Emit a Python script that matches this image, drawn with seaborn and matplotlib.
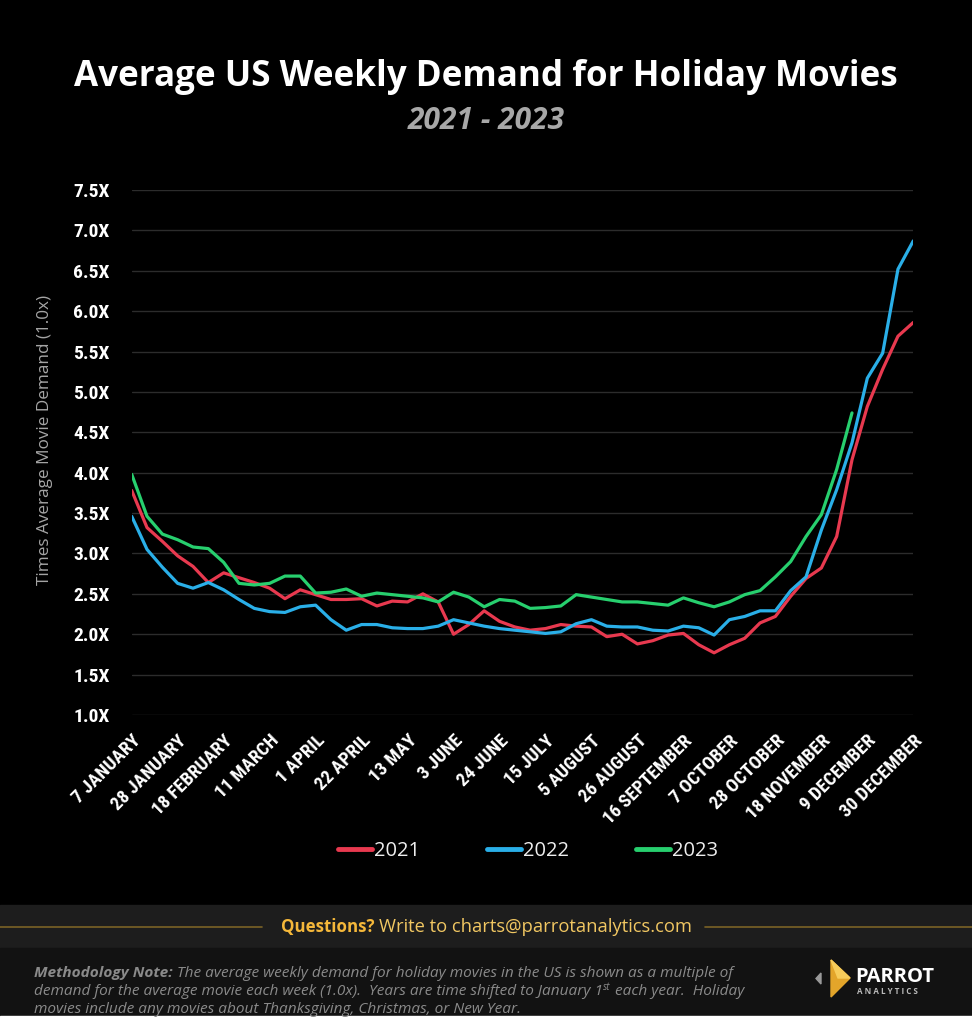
import numpy as np
import pandas as pd
import matplotlib
matplotlib.use('Agg')
import matplotlib.pyplot as plt
import seaborn as sns
from matplotlib import font_manager
from matplotlib.font_manager import FontProperties
from matplotlib.patches import Rectangle, Polygon
from matplotlib.lines import Line2D

# weekly demand (multiple of average movie demand), week 0 = 7 January
demand_2021 = [3.78, 3.32, 3.15, 2.97, 2.84, 2.64, 2.76, 2.70, 2.64, 2.57,
               2.44, 2.55, 2.49, 2.43, 2.43, 2.44, 2.35, 2.41, 2.40, 2.50,
               2.40, 2.00, 2.12, 2.29, 2.16, 2.09, 2.05, 2.07, 2.12, 2.10,
               2.09, 1.97, 2.00, 1.88, 1.92, 1.99, 2.01, 1.87, 1.77, 1.87,
               1.95, 2.14, 2.22, 2.47, 2.69, 2.82, 3.21, 4.16, 4.82, 5.28,
               5.69, 5.86]
demand_2022 = [3.46, 3.05, 2.83, 2.63, 2.57, 2.64, 2.55, 2.43, 2.32, 2.28,
               2.27, 2.34, 2.36, 2.18, 2.05, 2.12, 2.12, 2.08, 2.07, 2.07,
               2.10, 2.18, 2.14, 2.10, 2.07, 2.05, 2.03, 2.01, 2.03, 2.13,
               2.18, 2.10, 2.09, 2.09, 2.05, 2.04, 2.10, 2.08, 1.99, 2.18,
               2.22, 2.29, 2.29, 2.54, 2.71, 3.29, 3.79, 4.37, 5.17, 5.48,
               6.52, 6.87]
demand_2023 = [3.98, 3.46, 3.24, 3.17, 3.08, 3.06, 2.89, 2.63, 2.61, 2.63,
               2.72, 2.72, 2.51, 2.52, 2.56, 2.47, 2.51, 2.49, 2.47, 2.45,
               2.40, 2.52, 2.46, 2.34, 2.43, 2.41, 2.32, 2.33, 2.35, 2.49,
               2.46, 2.43, 2.40, 2.40, 2.38, 2.36, 2.45, 2.39, 2.34, 2.40,
               2.49, 2.54, 2.71, 2.90, 3.21, 3.48, 4.04, 4.74]

years = ['2021', '2022', '2023']
tick_labels = ['7 JANUARY', '28 JANUARY', '18 FEBRUARY', '11 MARCH', '1 APRIL',
               '22 APRIL', '13 MAY', '3 JUNE', '24 JUNE', '15 JULY', '5 AUGUST',
               '26 AUGUST', '16 SEPTEMBER', '7 OCTOBER', '28 OCTOBER',
               '18 NOVEMBER', '9 DECEMBER', '30 DECEMBER']
y_ticks = [1.0, 1.5, 2.0, 2.5, 3.0, 3.5, 4.0, 4.5, 5.0, 5.5, 6.0, 6.5, 7.0, 7.5]
palette = {'2021': '#E8394F', '2022': '#2AAFE8', '2023': '#27CF6E'}

rows = []
for yr, vals in zip(years, [demand_2021, demand_2022, demand_2023]):
    for i, v in enumerate(vals):
        rows.append({'week': i, 'demand': v, 'year': yr})
df = pd.DataFrame(rows)


def pick(*names):
    avail = {f.name for f in font_manager.fontManager.ttflist}
    for n in names:
        if n in avail:
            return n
    return 'DejaVu Sans'


def narrow_font():
    # look for a bold condensed / narrow face among the installed fonts
    best = None
    for f in font_manager.fontManager.ttflist:
        fn = f.fname.lower().replace('-', '').replace('_', '')
        w = f.weight if isinstance(f.weight, int) else 400
        if w < 600 or 'italic' in fn or 'oblique' in fn:
            continue
        if 'extracondensed' in fn or 'semicondensed' in fn:
            continue
        if 'condensed' in fn or 'narrow' in fn:
            if best is None or w == 700:
                best = f
    if best is not None:
        return FontProperties(fname=best.fname), True
    return FontProperties(family='DejaVu Sans', weight='bold', stretch='condensed'), False


NARROW, has_narrow = narrow_font()
SANS = pick('Open Sans', 'Lato', 'DejaVu Sans')
TITLE = pick('Open Sans', 'Lato', 'DejaVu Sans')

sns.set_style('dark', {'axes.facecolor': 'black', 'figure.facecolor': 'black'})
plt.rcParams['font.family'] = [SANS, 'DejaVu Sans']

W, H = 972, 1024
fig = plt.figure(figsize=(W / 100, H / 100), dpi=100)
fig.patch.set_facecolor('black')

x0, x1, ytop, ybot = 131.7, 913.3, 190, 715
ax = fig.add_axes([x0 / W, 1 - ybot / H, (x1 - x0) / W, (ybot - ytop) / H])
ax.set_facecolor('black')

sns.lineplot(data=df, x='week', y='demand', hue='year', palette=palette,
             linewidth=2.3, ax=ax, legend=False)

ax.set_xlim(0, 51)
ax.set_ylim(1.0, 7.5)
ax.set_yticks(y_ticks)
ax.set_yticklabels([f'{v:.1f}X' for v in y_ticks], color='white')
ax.set_xticks(list(range(0, 52, 3)))
ax.set_xticklabels(tick_labels, rotation=45, ha='right', rotation_mode='anchor',
                   color='white')
for lab in ax.get_xticklabels():
    lab.set_fontproperties(NARROW)
    lab.set_fontsize(13.5 if has_narrow else 10.5)
    if not has_narrow:
        lab.set_fontweight('bold')
for lab in ax.get_yticklabels():
    lab.set_fontproperties(NARROW)
    lab.set_fontsize(14 if has_narrow else 11)
    if not has_narrow:
        lab.set_fontweight('bold')
ax.tick_params(axis='both', length=0)
ax.tick_params(axis='x', pad=12)
ax.tick_params(axis='y', pad=16)
ax.grid(axis='y', color='#2c2c2c', linewidth=1)
ax.grid(axis='x', visible=False)
for s in ax.spines.values():
    s.set_visible(False)
ax.set_xlabel('')
ax.set_ylabel('')

fig.text(45 / W, 1 - 440 / H, 'Times Average Movie Demand (1.0x)', rotation=90,
         ha='center', va='center', color='#a5a5a5', fontsize=12.3, fontfamily=SANS)

# title
fig.text(0.5, 1 - 77 / H, 'Average US Weekly Demand for Holiday Movies', ha='center',
         va='center', color='white', fontsize=25.2, fontweight='bold', fontfamily=TITLE)
fig.text(0.5, 1 - 121 / H, '2021 - 2023', ha='center', va='center', color='#a8a8a8',
         fontsize=21.5, fontweight='bold', fontstyle='italic', fontfamily=TITLE)

# legend
handles = [Line2D([0], [0], color=palette[y], linewidth=3.5) for y in years]
fig.legend(handles, years, loc='center', bbox_to_anchor=(528 / W, 1 - 851 / H),
           ncol=3, frameon=False, handlelength=1.7, handletextpad=0.1,
           columnspacing=3.3, prop={'family': SANS, 'size': 14.5},
           labelcolor='#eeeeee')

# footer bands
fig.patches.append(Rectangle((0, 1 - 948 / H), 1, 43 / H, transform=fig.transFigure,
                             color='#1d1d1d', zorder=0))
fig.patches.append(Rectangle((0, 1 - 1016 / H), 1, 68 / H, transform=fig.transFigure,
                             color='#121212', zorder=0))
fig.patches.append(Rectangle((0, 0), 1, 1 - 1016 / H, transform=fig.transFigure,
                             color='white', zorder=0))
gy = 1 - 927 / H
fig.add_artist(Line2D([0, 262 / W], [gy, gy], color='#7a6226', linewidth=1.2))
fig.add_artist(Line2D([705 / W, 1], [gy, gy], color='#7a6226', linewidth=1.2))
fig.text(374 / W, gy, 'Questions?', ha='right', va='center', color='#F5B83A',
         fontsize=12.2, fontweight='bold', fontfamily=SANS)
fig.text(379 / W, gy, 'Write to charts@parrotanalytics.com', ha='left', va='center',
         color='#F1C762', fontsize=13.2, fontfamily=SANS)

renderer = fig.canvas.get_renderer()


def run_text(x_px, y_px, pieces):
    x = x_px
    for txt, kw in pieces:
        base = dict(color='#8a8a8a', fontsize=11.1, fontstyle='italic', fontfamily=SANS,
                    va='baseline', ha='left')
        base.update(kw)
        dy = base.pop('dy', 0)
        t = fig.text(x / W, 1 - (y_px - dy) / H, txt, **base)
        bb = t.get_window_extent(renderer=renderer)
        x += bb.width


run_text(34, 977, [('Methodology Note:', {'fontweight': 'bold'}),
                   (' The average weekly demand for holiday movies in the US is shown as a multiple of', {})])
run_text(34, 995, [('demand for the average movie each week (1.0x).  Years are time shifted to January 1', {}),
                   ('st', {'fontsize': 7, 'dy': 5}),
                   (' each year.  Holiday', {})])
run_text(34, 1013, [('movies include any movies about Thanksgiving, Christmas, or New Year.', {})])


# logo
def fpt(x, y):
    return (x / W, 1 - y / H)


fig.patches.append(Polygon([fpt(831, 960), fpt(850, 978), fpt(831, 997)], closed=True,
                           transform=fig.transFigure, color='#E3A52A', zorder=2))
fig.patches.append(Polygon([fpt(831, 960), fpt(850, 978), fpt(838, 978)], closed=True,
                           transform=fig.transFigure, color='#F7CC5A', zorder=3))
fig.patches.append(Polygon([fpt(821, 973), fpt(816, 978.5), fpt(821, 984)], closed=True,
                           transform=fig.transFigure, color='#9a9a9a', zorder=2))
fig.text(855 / W, 1 - 977 / H, 'PARROT', ha='left', va='center', color='white',
         fontsize=14.5, fontweight='bold', fontfamily=SANS)
fig.text(857 / W, 1 - 992 / H, 'A N A L Y T I C S', ha='left', va='center',
         color='#bbbbbb', fontsize=5.8, fontweight='bold', fontfamily=SANS)

fig.savefig('out.png', dpi=100, facecolor='black')
